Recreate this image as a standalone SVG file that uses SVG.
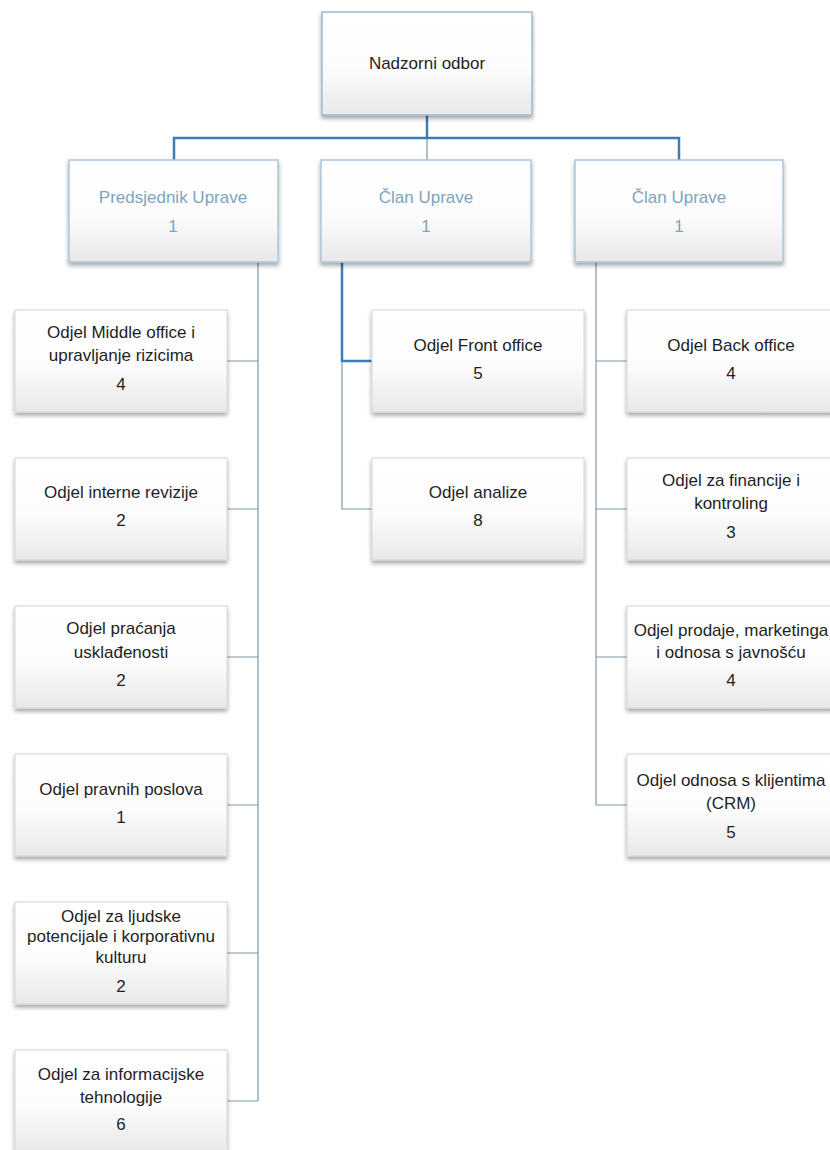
<svg xmlns="http://www.w3.org/2000/svg" width="830" height="1150" viewBox="0 0 830 1150">
<defs>
  <linearGradient id="gBox" x1="0" y1="0" x2="0" y2="1">
    <stop offset="0" stop-color="#ffffff"/>
    <stop offset="0.55" stop-color="#fcfcfc"/>
    <stop offset="1" stop-color="#e8e8e8"/>
  </linearGradient>
  <filter id="shadow" x="-10%" y="-10%" width="120%" height="130%">
    <feDropShadow dx="0" dy="3" stdDeviation="2" flood-color="#000" flood-opacity="0.35"/>
  </filter>
</defs>
<style>
  .box{fill:url(#gBox);stroke:#d6d6d6;stroke-width:1;filter:url(#shadow)}
  .box2{fill:url(#gBox);stroke:#a9c6dc;stroke-width:1.5;filter:url(#shadow)}
  .box1{fill:url(#gBox);stroke:#9fb8ca;stroke-width:1.5;filter:url(#shadow)}
  .t{font-family:"Liberation Sans",Arial,sans-serif;font-size:17px;fill:#1f1f1f;text-anchor:middle}
  .t2{font-family:"Liberation Sans",Arial,sans-serif;font-size:17px;fill:#7ea4bf;text-anchor:middle}
  .thick{stroke:#3d7db3;stroke-width:2.5;fill:none}
  .thin{stroke:#7f97aa;stroke-width:1.2;fill:none}
</style>
<rect width="830" height="1150" fill="#ffffff"/>

<g id="connectors">
  <path class="thin" d="M427,138 V160"/>
  <path class="thin" d="M258,262 V1101 M227,361 H258 M227,509 H258 M227,657 H258 M227,805 H258 M227,953 H258 M227,1101 H258"/>
  <path class="thin" d="M342,361 V509 H372"/>
  <path class="thin" d="M596,262 V805 M596,361 H627 M596,509 H627 M596,657 H627 M596,805 H627"/>
  <path class="thick" d="M427,115 V138"/>
  <path class="thick" d="M174,160 V138 H679 V160"/>
  <path class="thick" d="M342,262 V361 H372"/>
</g>

<g id="nadzorni-odbor">
  <rect class="box1" x="322" y="12" width="210" height="103"/>
  <text class="t" x="427" y="69">Nadzorni odbor</text>
</g>

<g id="predsjednik-uprave">
  <rect class="box2" x="69" y="160" width="209" height="102"/>
  <text class="t2" x="173" y="203">Predsjednik Uprave</text>
  <text class="t2" x="173" y="232">1</text>
</g>
<g id="clan-uprave-1">
  <rect class="box2" x="321" y="160" width="210" height="102"/>
  <text class="t2" x="426" y="203">Član Uprave</text>
  <text class="t2" x="426" y="232">1</text>
</g>
<g id="clan-uprave-2">
  <rect class="box2" x="575" y="160" width="208" height="102"/>
  <text class="t2" x="679" y="203">Član Uprave</text>
  <text class="t2" x="679" y="232">1</text>
</g>

<g id="middle-office">
  <rect class="box" x="15" y="310" width="212" height="102"/>
  <text class="t" x="121" y="338">Odjel Middle office i</text>
  <text class="t" x="121" y="361">upravljanje rizicima</text>
  <text class="t" x="121" y="390">4</text>
</g>
<g id="interne-revizije">
  <rect class="box" x="15" y="458" width="212" height="102"/>
  <text class="t" x="121" y="498">Odjel interne revizije</text>
  <text class="t" x="121" y="526">2</text>
</g>
<g id="pracenja-uskladenosti">
  <rect class="box" x="15" y="606" width="212" height="102"/>
  <text class="t" x="121" y="634">Odjel praćanja</text>
  <text class="t" x="121" y="658">usklađenosti</text>
  <text class="t" x="121" y="686">2</text>
</g>
<g id="pravnih-poslova">
  <rect class="box" x="15" y="754" width="212" height="102"/>
  <text class="t" x="121" y="795">Odjel pravnih poslova</text>
  <text class="t" x="121" y="823">1</text>
</g>
<g id="ljudske-potencijale">
  <rect class="box" x="15" y="902" width="212" height="102"/>
  <text class="t" x="121" y="922">Odjel za ljudske</text>
  <text class="t" x="121" y="942">potencijale i korporativnu</text>
  <text class="t" x="121" y="963">kulturu</text>
  <text class="t" x="121" y="992">2</text>
</g>
<g id="informacijske-tehnologije">
  <rect class="box" x="15" y="1050" width="212" height="102"/>
  <text class="t" x="121" y="1080">Odjel za informacijske</text>
  <text class="t" x="121" y="1103">tehnologije</text>
  <text class="t" x="121" y="1130">6</text>
</g>

<g id="front-office">
  <rect class="box" x="372" y="310" width="212" height="102"/>
  <text class="t" x="478" y="351">Odjel Front office</text>
  <text class="t" x="478" y="379">5</text>
</g>
<g id="analize">
  <rect class="box" x="372" y="458" width="212" height="102"/>
  <text class="t" x="478" y="498">Odjel analize</text>
  <text class="t" x="478" y="526">8</text>
</g>

<g id="back-office">
  <rect class="box" x="627" y="310" width="212" height="102"/>
  <text class="t" x="731" y="351">Odjel Back office</text>
  <text class="t" x="731" y="379">4</text>
</g>
<g id="financije-kontroling">
  <rect class="box" x="627" y="458" width="212" height="102"/>
  <text class="t" x="731" y="486">Odjel za financije i</text>
  <text class="t" x="731" y="509">kontroling</text>
  <text class="t" x="731" y="538">3</text>
</g>
<g id="prodaje-marketinga">
  <rect class="box" x="627" y="606" width="212" height="102"/>
  <text class="t" x="731" y="636">Odjel prodaje, marketinga</text>
  <text class="t" x="731" y="658">i odnosa s javnošću</text>
  <text class="t" x="731" y="686">4</text>
</g>
<g id="odnosa-klijentima">
  <rect class="box" x="627" y="754" width="212" height="102"/>
  <text class="t" x="731" y="786">Odjel odnosa s klijentima</text>
  <text class="t" x="731" y="809">(CRM)</text>
  <text class="t" x="731" y="838">5</text>
</g>
</svg>
